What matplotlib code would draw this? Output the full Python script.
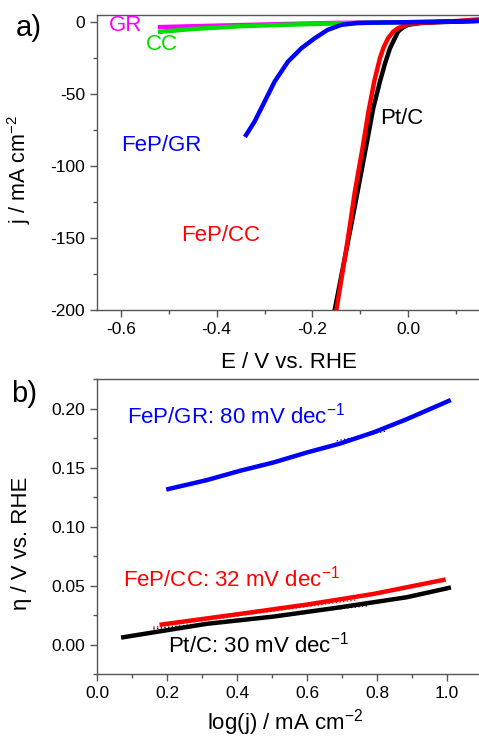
import numpy as np
import matplotlib.pyplot as plt
from matplotlib.ticker import MultipleLocator

plt.rcParams['font.family'] = ['Liberation Sans', 'DejaVu Sans']
plt.rcParams['mathtext.fontset'] = 'custom'
plt.rcParams['mathtext.rm'] = 'Liberation Sans'
plt.rcParams['mathtext.default'] = 'regular'
plt.rcParams['axes.unicode_minus'] = False

# ---- a) polarization curves (E in V vs RHE, j in mA cm-2)
E_gr = [-0.518, -0.45, -0.35, -0.25, -0.15, -0.05, 0.05, 0.15]
j_gr = [-3.2, -2.6, -1.8, -1.0, -0.3, 0.0, 0.4, 1.2]

E_cc = [-0.518, -0.45, -0.35, -0.25, -0.15, -0.05, 0.05, 0.15]
j_cc = [-6.5, -4.5, -2.6, -1.5, -0.6, -0.1, 0.3, 1.0]

E_fepgr = [-0.3386, -0.321, -0.300, -0.279, -0.251, -0.223, -0.195, -0.168,
           -0.139, -0.105, -0.05, 0.0, 0.05, 0.15]
j_fepgr = [-78.3, -69.0, -55.1, -41.1, -27.2, -17.9, -10.9, -5.1,
           -1.6, -0.3, 0.0, 0.2, 0.5, 1.2]

E_fepcc = [-0.150, -0.129, -0.1186, -0.1116, -0.0955, -0.083, -0.071, -0.059,
           -0.052, -0.042, -0.031, -0.021, 0.0, 0.023, 0.06, 0.1, 0.15]
j_fepcc = [-200, -157, -134, -118, -87.6, -62, -41.1, -24.8,
           -17.9, -10.9, -6.3, -3.9, -1.1, -0.3, 0.3, 1.0, 2.2]

E_ptc = [-0.1535, -0.115, -0.0886, -0.073, -0.059, -0.048, -0.038, -0.021,
         -0.010, 0.0, 0.0245, 0.06, 0.1, 0.15]
j_ptc = [-200, -134, -87.6, -59.7, -41.1, -28, -17.9, -6.3,
         -3.2, -1.6, -0.4, 0.2, 0.6, 1.2]

# ---- b) Tafel plots (log j vs overpotential in V)
lj_fepgr = [0.204, 0.314, 0.409, 0.504, 0.600, 0.695, 0.790, 0.885, 1.005]
eta_fepgr = [0.132, 0.1396, 0.1475, 0.1545, 0.163, 0.1706, 0.180, 0.1912, 0.2067]
fit_lj_fepgr = [0.685, 0.828]
fit_eta_fepgr = [0.1728, 0.1813]

lj_fepcc = [0.185, 0.409, 0.600, 0.790, 0.990]
eta_fepcc = [0.0172, 0.0262, 0.0341, 0.0431, 0.055]
fit_lj_fepcc = [0.161, 0.738]
fit_eta_fepcc = [0.0149, 0.038]

lj_ptc = [0.075, 0.123, 0.314, 0.504, 0.695, 0.885, 1.005]
eta_ptc = [0.0064, 0.0087, 0.0178, 0.0239, 0.0318, 0.0403, 0.0482]
fit_lj_ptc = [0.161, 0.776]
fit_eta_ptc = [0.0135, 0.0332]

W, H = 479, 737
fig = plt.figure(figsize=(W / 100, H / 100), dpi=100)

ax1 = fig.add_axes([97 / W, 427 / H, 383 / W, 294.7 / H])
ax2 = fig.add_axes([97 / W, 62.7 / H, 385 / W, 295 / H])

spine_c = '#555555'
for ax in (ax1, ax2):
    for s in ax.spines.values():
        s.set_color(spine_c)
        s.set_linewidth(1.0)
    ax.tick_params(which='both', direction='out', color=spine_c,
                   labelsize=12.5, top=False, right=False)
    ax.tick_params(which='major', length=5, width=1)
    ax.tick_params(which='minor', length=3, width=1)

lw = 3.2
ax1.plot(E_gr, j_gr, color='#ff00ff', lw=lw)
ax1.plot(E_cc, j_cc, color='#00dd00', lw=lw)
ax1.plot(E_ptc, j_ptc, color='black', lw=lw)
ax1.plot(E_fepcc, j_fepcc, color='red', lw=lw)
ax1.plot(E_fepgr, j_fepgr, color='blue', lw=lw)

ax1.set_xlim(-0.65, 0.15)
ax1.set_ylim(-200, 5)
ax1.xaxis.set_minor_locator(MultipleLocator(0.1))
ax1.yaxis.set_major_locator(MultipleLocator(50))
ax1.yaxis.set_minor_locator(MultipleLocator(25))
ax1.set_xticks([-0.6, -0.4, -0.2, 0.0])
ax1.set_xticklabels(['-0.6', '-0.4', '-0.2', '0.0'])
ax1.set_xlabel('E / V vs. RHE', fontsize=16)
ax1.set_ylabel('j / mA cm$^{-2}$', fontsize=15.5)
ax1.xaxis.set_label_coords(0.5, -0.142)
ax1.yaxis.set_label_coords(-0.167, 0.478)

fs = 16
ax1.text(-0.625, -2.1, 'GR', color='#ff00ff', fontsize=fs, va='center')
ax1.text(-0.548, -15.5, 'CC', color='#00dd00', fontsize=fs, va='center')
ax1.text(-0.600, -85.5, 'FeP/GR', color='blue', fontsize=fs, va='center')
ax1.text(-0.4746, -148, 'FeP/CC', color='red', fontsize=fs, va='center')
ax1.text(-0.0578, -66.7, 'Pt/C', color='black', fontsize=fs, va='center')

ax2.plot(lj_ptc, eta_ptc, color='black', lw=lw)
ax2.plot(lj_fepcc, eta_fepcc, color='red', lw=lw)
ax2.plot(lj_fepgr, eta_fepgr, color='blue', lw=lw)
ax2.plot(fit_lj_ptc, fit_eta_ptc, color='black', lw=1, ls=':')
ax2.plot(fit_lj_fepcc, fit_eta_fepcc, color='red', lw=1, ls=':')
ax2.plot(fit_lj_fepgr, fit_eta_fepgr, color='blue', lw=1, ls=':')

ax2.set_xlim(0, 1.1)
ax2.set_ylim(-0.025, 0.225)
ax2.set_xticks([0.0, 0.2, 0.4, 0.6, 0.8, 1.0])
ax2.xaxis.set_minor_locator(MultipleLocator(0.1))
ax2.yaxis.set_minor_locator(MultipleLocator(0.025))
ax2.set_yticks([0.0, 0.05, 0.10, 0.15, 0.20])
ax2.set_yticklabels(['0.00', '0.05', '0.10', '0.15', '0.20'])
ax2.set_xlabel('log(j) / mA cm$^{-2}$', fontsize=16)
ax2.set_ylabel('η / V vs. RHE', fontsize=16)
ax2.xaxis.set_label_coords(0.49, -0.11)
ax2.yaxis.set_label_coords(-0.169, 0.445)

ax2.text(0.085, 0.194, 'FeP/GR: 80 mV dec$^{-1}$', color='blue', fontsize=fs, va='center')
ax2.text(0.075, 0.0565, 'FeP/CC: 32 mV dec$^{-1}$', color='red', fontsize=fs, va='center')
ax2.text(0.204, 0.0, 'Pt/C: 30 mV dec$^{-1}$', color='black', fontsize=fs, va='center')

fig.text(28.5 / W, 1 - 28 / H, 'a)', fontsize=21, ha='center', va='center')
fig.text(24.5 / W, 1 - 394 / H, 'b)', fontsize=21, ha='center', va='center')

fig.savefig('out.png', dpi=100)
